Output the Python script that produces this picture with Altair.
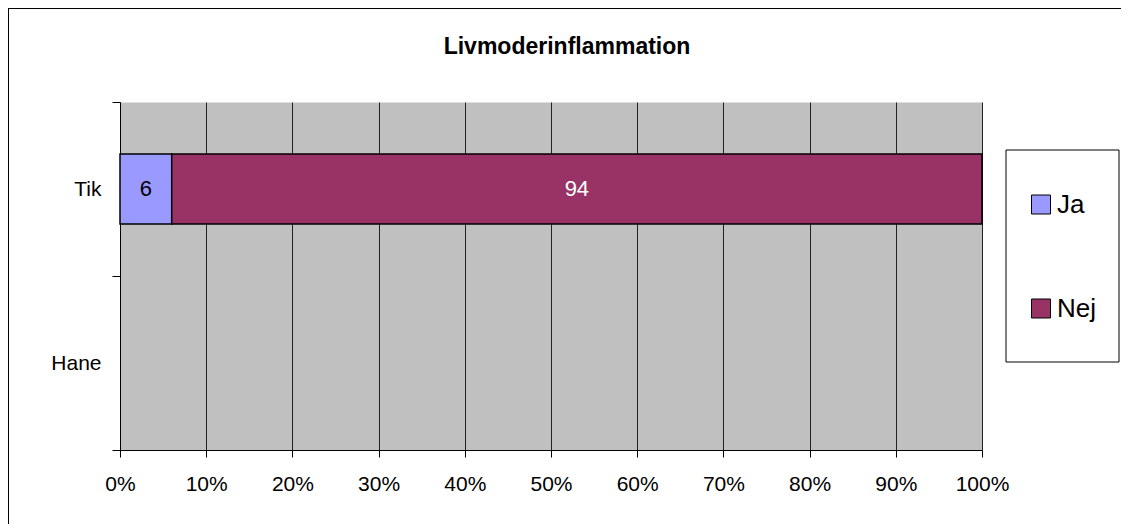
import altair as alt
import pandas as pd

# ---- data ----
categories = ["Tik", "Hane"]
answers = ["Ja", "Nej"]
tik_values = [6, 94]
answer_order = [0, 1]
answer_colors = ["#9999FF", "#993366"]
x_ticks = [0, 0.1, 0.2, 0.3, 0.4, 0.5, 0.6, 0.7, 0.8, 0.9, 1.0]
title_text = "Livmoderinflammation"

df = pd.DataFrame({
    "kategori": ["Tik"] * len(answers),
    "svar": answers,
    "antal": tik_values,
    "ordning": answer_order,
})

FONT = "Liberation Sans"
W, H = 862, 348

base = alt.Chart(df).transform_stack(
    stack="antal",
    groupby=["kategori"],
    as_=["x0", "x1"],
    offset="normalize",
    sort=[alt.SortField("ordning", order="ascending")],
).transform_calculate(mid="(datum.x0 + datum.x1) / 2")

y_enc = alt.Y(
    "kategori:N",
    scale=alt.Scale(domain=categories, paddingInner=0, paddingOuter=0),
    axis=alt.Axis(
        title=None, tickBand="extent", domainColor="black", domainWidth=1,
        tickColor="black", tickSize=8, tickWidth=1, labelFontSize=21,
        labelFont=FONT, labelColor="black", labelPadding=11, grid=False,
    ),
)

x_scale = alt.Scale(domain=[0, 1], nice=False, zero=True)

bars = base.mark_bar(size=70, stroke="black", strokeWidth=1.5, opacity=1).encode(
    x=alt.X(
        "x0:Q",
        scale=x_scale,
        axis=alt.Axis(
            title=None, values=x_ticks, format=".0%", grid=True,
            gridColor="#222222", gridWidth=1, domainColor="black",
            domainWidth=1, tickColor="black", tickSize=7, tickWidth=1,
            labelFontSize=21, labelFont=FONT, labelColor="black",
            labelPadding=16, labelFlush=False, labelOverlap=False,
        ),
    ),
    x2="x1:Q",
    y=y_enc,
    color=alt.Color(
        "svar:N",
        scale=alt.Scale(domain=answers, range=answer_colors),
        sort=answers,
        legend=alt.Legend(
            orient="none", legendX=908, legendY=89.5, title=None,
            symbolType="square", symbolSize=361, symbolStrokeColor="black",
            symbolStrokeWidth=1, symbolOpacity=1, labelFontSize=26,
            labelFont=FONT, labelColor="black", labelOffset=3,
            rowPadding=78, padding=0,
        ),
    ),
)

labels = base.mark_text(font=FONT, fontSize=22, baseline="middle", align="center").encode(
    x=alt.X("mid:Q", scale=x_scale),
    y=alt.Y("kategori:N", scale=alt.Scale(domain=categories, paddingInner=0, paddingOuter=0)),
    text=alt.Text("antal:Q"),
    color=alt.condition("datum.svar == 'Nej'", alt.value("white"), alt.value("black")),
)

one = pd.DataFrame({"r": [0]})
legend_frame = alt.Chart(one).mark_rect(fill="white", stroke="black", strokeWidth=1).encode(
    x=alt.value(886), x2=alt.value(999), y=alt.value(48), y2=alt.value(260)
)
border_top = alt.Chart(one).mark_rule(color="black", strokeWidth=1).encode(
    x=alt.value(-112), x2=alt.value(1001), y=alt.value(-93.5)
)
border_left = alt.Chart(one).mark_rule(color="black", strokeWidth=1).encode(
    x=alt.value(-111.5), y=alt.value(-93.5), y2=alt.value(422)
)

chart = alt.layer(legend_frame, border_top, border_left, bars, labels).properties(
    width=W,
    height=H,
    autosize=alt.AutoSizeParams(type="none"),
    padding={"left": 112, "top": 94, "right": 139, "bottom": 74},
    background="white",
    title=alt.TitleParams(
        text=title_text, font=FONT, fontSize=23, fontWeight="bold",
        color="black", anchor="middle", frame="group", orient="top",
        baseline="alphabetic", offset=-69, dx=16,
    ),
).configure_view(fill="#C0C0C0", stroke="transparent")

chart.save("out.html", embed_options={"renderer": "svg", "actions": False})
